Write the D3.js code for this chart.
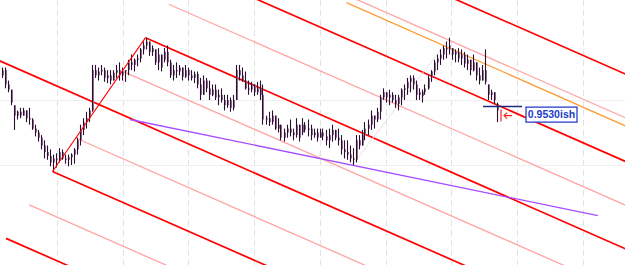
<!DOCTYPE html>
<html>
<head>
<meta charset="utf-8">
<script src="https://cdn.jsdelivr.net/npm/d3@7"></script>
<style>
  body { margin: 0; background: #fff; }
  svg { display: block; }
</style>
</head>
<body>
<div class="wrapper"></div>
<script>
// hourly bars
var highs = [
  0.9575,0.9575,0.9565,0.9558,0.9546,0.9542,0.9544,0.9544,0.9542,0.9544,
  0.9536,0.9531,0.9527,0.9523,0.9519,0.9515,0.9512,0.9508,0.9509,0.9513,
  0.9512,0.9508,0.9508,0.9509,0.9513,0.9521,0.9531,0.9536,0.9541,0.9544,
  0.9577,0.9577,0.9575,0.9577,0.9575,0.9573,0.9573,0.9573,0.9577,0.9579,
  0.9575,0.9573,0.9581,0.9585,0.9582,0.9585,0.9590,0.9595,0.9598,0.9595,
  0.9592,0.9589,0.9590,0.9585,0.9590,0.9592,0.9581,0.9577,0.9579,0.9577,
  0.9575,0.9577,0.9575,0.9573,0.9572,0.9572,0.9567,0.9569,0.9567,0.9565,
  0.9562,0.9562,0.9558,0.9559,0.9554,0.9554,0.9552,0.9554,0.9577,0.9577,
  0.9575,0.9572,0.9565,0.9564,0.9562,0.9564,0.9565,0.9562,0.9538,0.9541,
  0.9542,0.9538,0.9536,0.9531,0.9528,0.9531,0.9535,0.9528,0.9536,0.9531,
  0.9536,0.9533,0.9535,0.9531,0.9528,0.9528,0.9528,0.9528,0.9527,0.9528,
  0.9531,0.9527,0.9528,0.9523,0.9519,0.9519,0.9515,0.9513,0.9523,0.9523,
  0.9527,0.9533,0.9535,0.9542,0.9538,0.9544,0.9554,0.9559,0.9556,0.9558,
  0.9556,0.9554,0.9554,0.9559,0.9562,0.9567,0.9569,0.9569,0.9565,0.9559,
  0.9558,0.9562,0.9569,0.9573,0.9581,0.9585,0.9589,0.9592,0.9595,0.9598,
  0.9590,0.9589,0.9590,0.9589,0.9587,0.9585,0.9581,0.9585,0.9579,0.9575,
  0.9577,0.9589,0.9562,0.9558,0.9556,0.9548
];
var lows = [
  0.9567,0.9559,0.9556,0.9546,0.9527,0.9535,0.9536,0.9538,0.9533,0.9531,
  0.9527,0.9522,0.9518,0.9512,0.9505,0.9504,0.9499,0.9495,0.9498,0.9502,
  0.9504,0.9501,0.9499,0.9500,0.9501,0.9508,0.9515,0.9523,0.9528,0.9533,
  0.9541,0.9567,0.9565,0.9569,0.9564,0.9563,0.9562,0.9565,0.9567,0.9565,
  0.9565,0.9564,0.9569,0.9573,0.9572,0.9576,0.9579,0.9585,0.9589,0.9584,
  0.9584,0.9577,0.9573,0.9572,0.9579,0.9576,0.9567,0.9565,0.9567,0.9569,
  0.9565,0.9567,0.9565,0.9565,0.9563,0.9559,0.9550,0.9554,0.9556,0.9550,
  0.9553,0.9550,0.9546,0.9548,0.9542,0.9544,0.9541,0.9542,0.9550,0.9565,
  0.9564,0.9558,0.9554,0.9556,0.9553,0.9554,0.9550,0.9531,0.9531,0.9530,
  0.9531,0.9527,0.9525,0.9519,0.9518,0.9521,0.9522,0.9519,0.9521,0.9518,
  0.9523,0.9525,0.9522,0.9519,0.9521,0.9518,0.9521,0.9519,0.9515,0.9513,
  0.9518,0.9519,0.9515,0.9508,0.9505,0.9504,0.9502,0.9500,0.9502,0.9512,
  0.9515,0.9519,0.9523,0.9527,0.9528,0.9533,0.9535,0.9550,0.9548,0.9546,
  0.9548,0.9544,0.9542,0.9546,0.9550,0.9554,0.9556,0.9558,0.9550,0.9550,
  0.9548,0.9554,0.9558,0.9564,0.9569,0.9573,0.9577,0.9581,0.9582,0.9585,
  0.9581,0.9579,0.9579,0.9577,0.9575,0.9573,0.9569,0.9572,0.9565,0.9562,
  0.9565,0.9562,0.9550,0.9550,0.9547,0.9533
];
var opens = [
  0.9569,0.9573,0.9562,0.9558,0.9546,0.9538,0.9541,0.9538,0.9542,0.9536,
  0.9535,0.9528,0.9525,0.9521,0.9515,0.9510,0.9507,0.9502,0.9505,0.9504,
  0.9510,0.9505,0.9504,0.9506,0.9508,0.9512,0.9519,0.9527,0.9533,0.9536,
  0.9542,0.9573,0.9569,0.9572,0.9573,0.9567,0.9569,0.9565,0.9571,0.9573,
  0.9569,0.9572,0.9573,0.9579,0.9577,0.9581,0.9582,0.9589,0.9592,0.9595,
  0.9587,0.9589,0.9579,0.9585,0.9581,0.9587,0.9579,0.9569,0.9573,0.9572,
  0.9575,0.9568,0.9573,0.9569,0.9567,0.9570,0.9562,0.9554,0.9565,0.9559,
  0.9554,0.9558,0.9552,0.9554,0.9550,0.9546,0.9550,0.9544,0.9550,0.9573,
  0.9569,0.9565,0.9559,0.9558,0.9562,0.9556,0.9559,0.9554,0.9535,0.9536,
  0.9533,0.9538,0.9528,0.9531,0.9521,0.9525,0.9528,0.9525,0.9523,0.9531,
  0.9525,0.9531,0.9527,0.9528,0.9523,0.9525,0.9521,0.9525,0.9522,0.9519,
  0.9523,0.9527,0.9521,0.9519,0.9512,0.9510,0.9508,0.9505,0.9504,0.9519,
  0.9515,0.9523,0.9528,0.9531,0.9538,0.9535,0.9541,0.9552,0.9556,0.9552,
  0.9554,0.9550,0.9547,0.9552,0.9558,0.9559,0.9564,0.9567,0.9562,0.9554,
  0.9556,0.9556,0.9559,0.9567,0.9572,0.9579,0.9582,0.9585,0.9590,0.9589,
  0.9590,0.9585,0.9587,0.9582,0.9585,0.9578,0.9581,0.9573,0.9579,0.9569,
  0.9565,0.9573,0.9562,0.9554,0.9556,0.9547
];
var closes = [
  0.9573,0.9562,0.9558,0.9548,0.9538,0.9541,0.9538,0.9542,0.9536,0.9535,
  0.9528,0.9525,0.9521,0.9515,0.9510,0.9507,0.9502,0.9505,0.9504,0.9510,
  0.9505,0.9504,0.9506,0.9508,0.9512,0.9519,0.9527,0.9533,0.9536,0.9542,
  0.9573,0.9569,0.9572,0.9573,0.9567,0.9569,0.9565,0.9571,0.9573,0.9569,
  0.9572,0.9573,0.9579,0.9577,0.9581,0.9582,0.9589,0.9592,0.9595,0.9587,
  0.9590,0.9579,0.9585,0.9575,0.9587,0.9579,0.9569,0.9573,0.9572,0.9575,
  0.9568,0.9573,0.9569,0.9567,0.9570,0.9562,0.9554,0.9565,0.9559,0.9554,
  0.9558,0.9552,0.9554,0.9550,0.9546,0.9550,0.9544,0.9550,0.9573,0.9569,
  0.9565,0.9559,0.9558,0.9562,0.9556,0.9559,0.9554,0.9535,0.9536,0.9533,
  0.9538,0.9528,0.9531,0.9521,0.9525,0.9528,0.9525,0.9523,0.9531,0.9521,
  0.9531,0.9527,0.9528,0.9523,0.9525,0.9521,0.9525,0.9522,0.9519,0.9523,
  0.9527,0.9521,0.9519,0.9512,0.9510,0.9508,0.9505,0.9504,0.9519,0.9515,
  0.9523,0.9528,0.9531,0.9538,0.9535,0.9541,0.9552,0.9556,0.9552,0.9554,
  0.9550,0.9547,0.9552,0.9558,0.9559,0.9564,0.9567,0.9562,0.9554,0.9556,
  0.9553,0.9559,0.9567,0.9572,0.9579,0.9582,0.9585,0.9590,0.9589,0.9592,
  0.9585,0.9587,0.9582,0.9585,0.9578,0.9581,0.9573,0.9579,0.9569,0.9565,
  0.9573,0.9564,0.9554,0.9556,0.9550,0.9542
];

// grid (bar index / price)
var gridBars = [18.5, 40.4, 62.3, 84.2, 106.1, 128, 149.9, 171.8, 193.7];
var gridPrices = [0.9550, 0.9500];

// pitchfork pivots [bar, price] and its levels (1 = A side, -1 = B side)
var forkP0 = [-30, 0.9610];
var forkA = [17, 0.9495];
var forkB = [48, 0.9598];
var forkLevels = [-3, -2.5, -2, -1.5, -1, -0.5, 0, 0.5, 1, 1.5, 2];

// other drawn lines [bar1, price1, bar2, price2]
var orangeLine = [115, 0.9625, 209, 0.9529];
var greyLine = [117, 0.9500, 149, 0.9597];
var purpleLine = [42.8, 0.9535, 198.8, 0.9461];

// note at the last bar
var markLine = [160.5, 173.5, 0.9545];
var noteBar = 166.5;
var notePrice = 0.9538;
var noteText = "0.9530ish";

var width = 625, height = 265;
var svg = d3.select(".wrapper").append("svg")
  .attr("width", width)
  .attr("height", height);

var x = d3.scaleLinear().domain([0, 165]).range([1.5, 496.5]);
var y = d3.scaleLinear().domain([0.9423, 0.9627]).range([height, 0]);

// grid
svg.append("g").selectAll("line")
  .data(gridBars).enter().append("line")
    .attr("x1", function(d) { return Math.round(x(d)) + 0.5; })
    .attr("x2", function(d) { return Math.round(x(d)) + 0.5; })
    .attr("y1", 0).attr("y2", height)
    .attr("stroke", "#e2e2e2")
    .attr("stroke-dasharray", "6,4");
svg.append("g").selectAll("line")
  .data(gridPrices).enter().append("line")
    .attr("x1", 0).attr("x2", width)
    .attr("y1", function(d) { return Math.round(y(d)) + 0.5; })
    .attr("y2", function(d) { return Math.round(y(d)) + 0.5; })
    .attr("stroke", "#efefef");

// pitchfork
var mid = [(forkA[0] + forkB[0]) / 2, (forkA[1] + forkB[1]) / 2];
var dir = [mid[0] - forkP0[0], mid[1] - forkP0[1]];
var forkLines = forkLevels.map(function(t) {
  var s = t === 0 ? forkP0 : [mid[0] + t * (forkA[0] - mid[0]), mid[1] + t * (forkA[1] - mid[1])];
  return { t: t, x1: s[0], y1: s[1], x2: s[0] + 5 * dir[0], y2: s[1] + 5 * dir[1] };
});

function seg(l, color, w) {
  svg.append("line")
    .attr("x1", x(l[0])).attr("y1", y(l[1]))
    .attr("x2", x(l[2])).attr("y2", y(l[3]))
    .attr("stroke", color)
    .attr("stroke-width", w);
}
seg(orangeLine, "#ff9a30", 1.2);

svg.append("g").selectAll("line")
  .data(forkLines).enter().append("line")
    .attr("x1", function(d) { return x(d.x1); })
    .attr("y1", function(d) { return y(d.y1); })
    .attr("x2", function(d) { return x(d.x2); })
    .attr("y2", function(d) { return y(d.y2); })
    .attr("stroke", function(d) { return d.t % 1 === 0 ? "#ff0000" : "#ffa4a4"; })
    .attr("stroke-width", function(d) { return d.t % 1 === 0 ? 1.7 : 1.3; });

seg(greyLine, "#e4e4e4", 1);
seg(purpleLine, "#a64dff", 1.3);

// bars
var bars = d3.range(highs.length);
var g = svg.append("g");
g.selectAll("rect")
  .data(bars).enter().append("rect")
    .attr("x", function(i) { return Math.round(x(i)); })
    .attr("y", function(i) { return y(Math.max(opens[i], closes[i])); })
    .attr("width", 2)
    .attr("height", function(i) { return Math.max(1, Math.abs(y(opens[i]) - y(closes[i]))); })
    .attr("fill", "#8f6f92");
g.selectAll("line")
  .data(bars).enter().append("line")
    .attr("x1", function(i) { return Math.round(x(i)) + 0.5; })
    .attr("x2", function(i) { return Math.round(x(i)) + 0.5; })
    .attr("y1", function(i) { return y(highs[i]); })
    .attr("y2", function(i) { return y(lows[i]); })
    .attr("stroke", "#2b0f2f")
    .attr("stroke-width", 1.1);

// AB line of the fork on top
seg([forkA[0], forkA[1], forkB[0], forkB[1]], "#ff0000", 1.1);

// note
svg.append("line")
  .attr("x1", x(markLine[0])).attr("x2", x(markLine[1]))
  .attr("y1", y(markLine[2])).attr("y2", y(markLine[2]))
  .attr("stroke", "#1c2a80")
  .attr("stroke-width", 1.6);
var nx = x(noteBar), ny = y(notePrice);
svg.append("line")
  .attr("x1", nx).attr("x2", nx)
  .attr("y1", ny - 6).attr("y2", ny + 6)
  .attr("stroke", "#ff2020").attr("stroke-width", 1.2);
svg.append("path")
  .attr("d", "M" + (nx + 11) + "," + ny + "H" + (nx + 3) + "M" + (nx + 6) + "," + (ny - 3) + "L" + (nx + 3) + "," + ny + "L" + (nx + 6) + "," + (ny + 3))
  .attr("fill", "none")
  .attr("stroke", "#ff2020").attr("stroke-width", 1.1);

var label = svg.append("g")
  .attr("transform", "translate(" + (nx + 25) + "," + (ny - 1) + ")");
label.append("rect")
  .attr("x", 0).attr("y", -7.5)
  .attr("width", 51).attr("height", 15)
  .attr("fill", "#fff")
  .attr("stroke", "#2a40c8")
  .attr("stroke-width", 1.3);
label.append("text")
  .attr("x", 25.5).attr("y", 0)
  .attr("dy", "0.36em")
  .attr("text-anchor", "middle")
  .attr("font-family", "Liberation Sans, Arial, sans-serif")
  .attr("font-weight", "bold")
  .attr("font-size", 10.5)
  .attr("fill", "#2240c8")
  .text(noteText);
</script>
</body>
</html>
